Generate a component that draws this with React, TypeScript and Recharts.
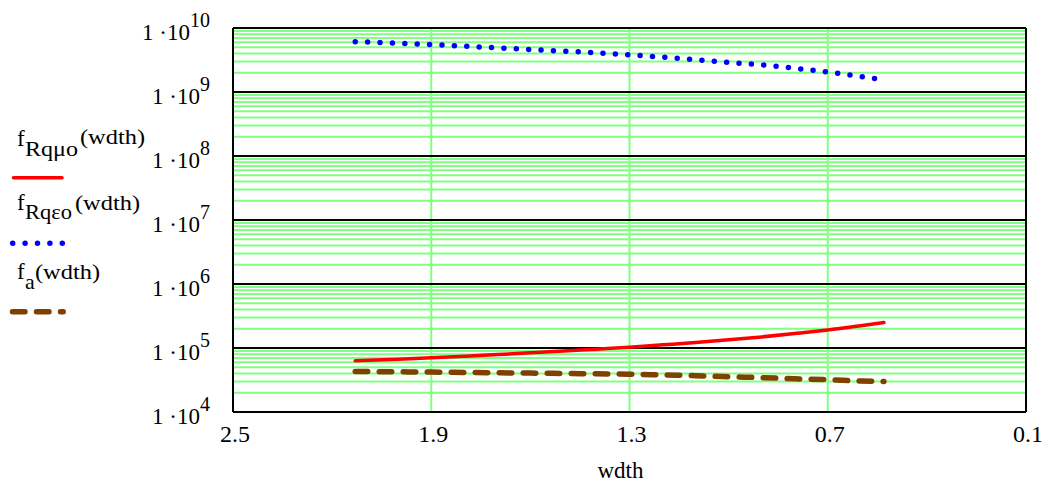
import { LineChart, Line, XAxis, YAxis, ReferenceLine } from 'recharts';

// wdth samples and the three curves
const wdth = [2.13, 2.0, 1.9, 1.8, 1.7, 1.6, 1.5, 1.4, 1.3, 1.2, 1.1, 1.0, 0.9, 0.8, 0.7, 0.6, 0.53];
const fRqmuo = [63000, 67000, 70500, 74500, 79000, 84000, 89500, 96000, 103000, 112000, 122000, 134000, 149000, 168000, 191000, 223000, 250000];
const fRqeps = [6.1e9, 5.8e9, 5.5e9, 5.2e9, 4.9e9, 4.6e9, 4.35e9, 4.1e9, 3.8e9, 3.5e9, 3.2e9, 2.9e9, 2.65e9, 2.35e9, 2.05e9, 1.75e9, 1.55e9];
const fa = [43000, 42500, 42000, 41500, 41000, 40500, 40000, 39500, 39000, 38000, 37000, 35500, 34500, 33000, 32000, 30500, 30000];

const xTicks = [2.5, 1.9, 1.3, 0.7, 0.1];
const yTicks = [1e4, 1e5, 1e6, 1e7, 1e8, 1e9, 1e10];
const minorSteps = [2, 3, 4, 5, 6, 7, 8, 9];
const yMinor = yTicks.slice(0, -1).flatMap((d) => minorSteps.map((m) => d * m));

const data = wdth.map((w, i) => ({ wdth: w, muo: fRqmuo[i], eps: fRqeps[i], a: fa[i] }));

const SERIF = "'Liberation Serif'";
const GRID_GREEN = '#80ff80';

const XTick = ({ x, payload }: any) => (
  <text x={x + 2} y={442} textAnchor="middle" fontFamily={SERIF} fontSize={24} fill="#000">
    {String(payload.value)}
  </text>
);

const YTick = ({ y, payload }: any) => {
  const exp = Math.round(Math.log10(payload.value));
  return (
    <text x={210} y={y + 12} textAnchor="end" fontFamily={SERIF} fontSize={23} fill="#000">
      1 ·10
      <tspan dy={-13} fontSize={20}>{exp}</tspan>
    </text>
  );
};

const XLabel = ({ viewBox }: any) => (
  <text x={viewBox.x + viewBox.width / 2 - 9} y={478} textAnchor="middle" fontFamily={SERIF} fontSize={23} fill="#000">
    wdth
  </text>
);

function LegendBlock() {
  const fit = { lengthAdjust: 'spacingAndGlyphs' as const };
  return (
    <svg width={230} height={483} style={{ position: 'absolute', left: 0, top: 0, pointerEvents: 'none' }}>
      <g fontFamily={SERIF} fill="#000">
        <text x={17} y={146} fontSize={23}>f</text>
        <text x={25} y={156} fontSize={22} textLength={53} {...fit}>Rqμo</text>
        <text x={80} y={144} fontSize={22} textLength={65} {...fit}>(wdth)</text>

        <text x={17} y={210} fontSize={23}>f</text>
        <text x={25} y={219} fontSize={22} textLength={47} {...fit}>Rqεo</text>
        <text x={75} y={210} fontSize={22} textLength={65} {...fit}>(wdth)</text>

        <text x={17} y={279} fontSize={23}>f</text>
        <text x={25} y={289} fontSize={22}>a</text>
        <text x={35} y={279} fontSize={22} textLength={65} {...fit}>(wdth)</text>
      </g>
      <line x1={13.5} x2={62} y1={177.7} y2={177.7} stroke="#ff0000" strokeWidth={3.5} strokeLinecap="round" />
      <line x1={12.7} x2={63} y1={243.3} y2={243.3} stroke="#0000ff" strokeWidth={5.5} strokeDasharray="0 12.4" strokeLinecap="round" />
      <line x1={12.5} x2={63.2} y1={311.7} y2={311.7} stroke="#804000" strokeWidth={5.5} strokeDasharray="12.5 11.5" strokeLinecap="round" />
    </svg>
  );
}

export default function App() {
  return (
    <div style={{ position: 'absolute', left: 0, top: 0, width: 1049, height: 483, background: '#fff' }}>
      <LineChart width={1049} height={483} data={data} margin={{ top: 28, right: 23, bottom: 0, left: 0 }}>
        <XAxis
          dataKey="wdth"
          type="number"
          domain={[0.1, 2.5]}
          reversed
          allowDataOverflow
          ticks={xTicks}
          interval={0}
          axisLine={false}
          tickLine={false}
          height={71}
          tick={XTick}
          label={XLabel}
        />
        <YAxis
          scale="log"
          domain={[1e4, 1e10]}
          allowDataOverflow
          ticks={yTicks}
          interval={0}
          axisLine={false}
          tickLine={false}
          width={233}
          tick={YTick}
        />

        {yMinor.map((v) => (
          <ReferenceLine key={`m${v}`} y={v} stroke={GRID_GREEN} strokeWidth={2} />
        ))}
        {xTicks.map((v) => (
          <ReferenceLine key={`x${v}`} x={v} stroke={GRID_GREEN} strokeWidth={2} />
        ))}
        {yTicks.map((v) => (
          <ReferenceLine key={`d${v}`} y={v} stroke="#000" strokeWidth={2} />
        ))}
        <ReferenceLine x={2.5} stroke="#000" strokeWidth={2} />
        <ReferenceLine x={0.1} stroke="#000" strokeWidth={2} />

        <Line
          dataKey="a"
          type="monotone"
          stroke="#804000"
          strokeWidth={5.5}
          strokeDasharray="12.5 11.5"
          strokeLinecap="round"
          dot={false}
          isAnimationActive={false}
        />
        <Line
          dataKey="eps"
          type="monotone"
          stroke="#0000ff"
          strokeWidth={5.5}
          strokeDasharray="0 12.4"
          strokeLinecap="round"
          dot={false}
          isAnimationActive={false}
        />
        <Line
          dataKey="muo"
          type="monotone"
          stroke="#ff0000"
          strokeWidth={3.5}
          strokeLinecap="round"
          dot={false}
          isAnimationActive={false}
        />
      </LineChart>
      <LegendBlock />
    </div>
  );
}
